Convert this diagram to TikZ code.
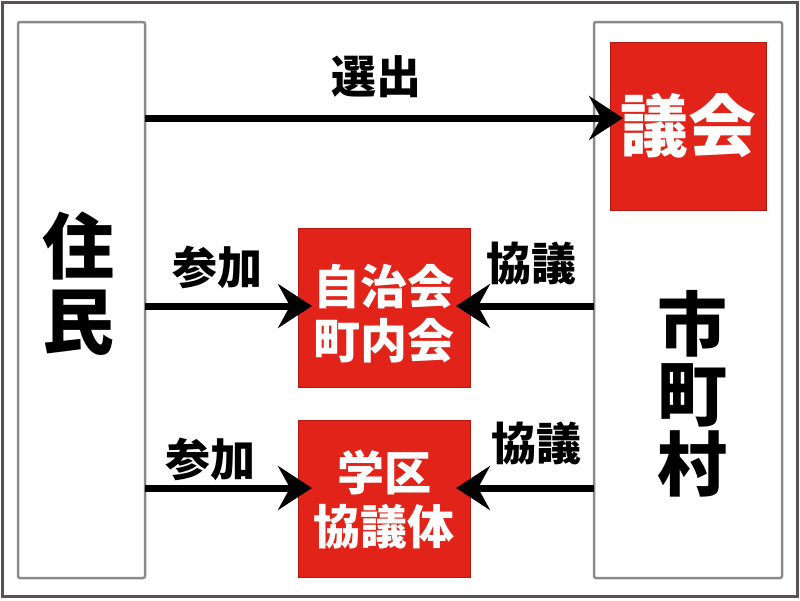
\documentclass[tikz,border=0pt]{standalone}
\usepackage{fontspec}
\setmainfont{Noto Sans CJK JP}[BoldFont={* Black}]
\usetikzlibrary{arrows.meta}
\definecolor{frameC}{HTML}{5A5252}
\definecolor{panelC}{HTML}{8A8A8A}
\definecolor{redC}{HTML}{E2231A}
\definecolor{redD}{HTML}{B01810}
\begin{document}
\begin{tikzpicture}[x=1pt,y=-1pt,
  panel/.style={draw=panelC,line width=2.5pt,rounded corners=2pt},
  redbox/.style={fill=redC,draw=redD,line width=0.8pt},
  redtxt/.style={text=white,font=\bfseries,align=center,inner sep=0pt},
  lbl/.style={font=\bfseries\fontsize{45}{48}\selectfont,inner sep=0pt},
  conn/.style={line width=7pt,-{Stealth[length=34pt,width=44pt,inset=12pt]}}]
\useasboundingbox (0,0) rectangle (800,600);
\fill[white] (0,0) rectangle (800,600);
\draw[frameC,line width=3pt] (2,2) rectangle (797,596);
% panels
\draw[panel] (18,22) rectangle (145,578);
\draw[panel] (594,22) rectangle (782,578);
\coordinate (L1) at (145,118);
\coordinate (L2) at (145,306);
\coordinate (L3) at (145,488);
\coordinate (R2) at (594,306);
\coordinate (R3) at (594,488);
% red boxes
\draw[redbox] (610,42) rectangle (766,210);
\draw[redbox] (298,228) rectangle (470,387);
\draw[redbox] (298,420) rectangle (470,577);
\coordinate (G) at (623,118);
\coordinate (J1) at (312,306);
\coordinate (J2) at (456,306);
\coordinate (K1) at (312,488);
\coordinate (K2) at (456,488);
% arrows
\draw[conn] (L1) -- (G);
\draw[conn] (L2) -- (J1);
\draw[conn] (L3) -- (K1);
\draw[conn] (R2) -- (J2);
\draw[conn] (R3) -- (K2);
% red texts
\node[redtxt,font=\bfseries\fontsize{68}{68}\selectfont] (gikai) at (688,126) {議会};
\node[redtxt,font=\bfseries\fontsize{47}{54}\selectfont] (jichi) at (384,314) {自治会\\町内会};
\node[redtxt,font=\bfseries\fontsize{47}{54}\selectfont] (gakku) at (384,500) {学区\\協議体};
% big labels
\node[font=\bfseries\fontsize{72}{75}\selectfont,align=center,inner sep=0pt] (jumin) at (78,284) {住\\民};
\node[font=\bfseries\fontsize{70}{70}\selectfont,align=center,inner sep=0pt] (shi) at (692,394) {市\\町\\村};
% labels
\node[lbl] (sen) at (376,77) {選出};
\node[lbl] (san1) at (217,267) {参加};
\node[lbl] (san2) at (210,459) {参加};
\node[lbl] (kyo1) at (531,263) {協議};
\node[lbl] (kyo2) at (536,443) {協議};
\end{tikzpicture}
\end{document}
